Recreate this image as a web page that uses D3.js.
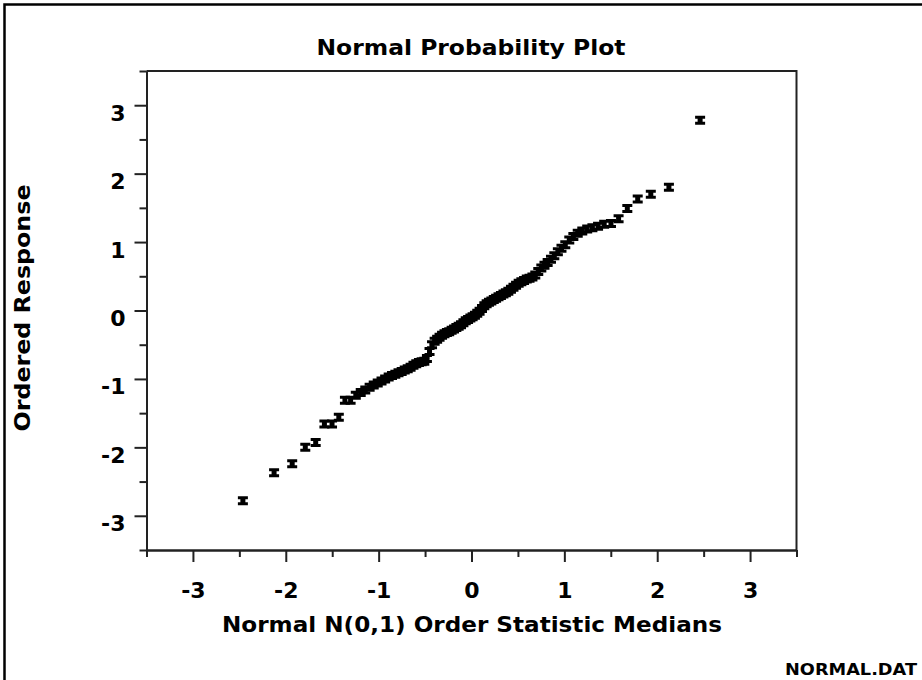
<!DOCTYPE html>
<html>
<head>
<meta charset="utf-8">
<title>Normal Probability Plot</title>
<script src="https://cdn.jsdelivr.net/npm/d3@7"></script>
<style>
  body { margin: 0; background: #fff; }
  svg { display: block; }
  text { font-family: "DejaVu Sans", "Liberation Sans", Arial, sans-serif; font-weight: bold; fill: #000; }
</style>
</head>
<body>
<svg id="chart" width="922" height="680"></svg>
<script>
// normal probability plot of NORMAL.DAT (100 points)

// x: normal N(0,1) order statistic medians, rank 1..100
const xMedians = [
  -2.462, -2.126, -1.931, -1.790, -1.678, -1.584, -1.502, -1.429, -1.363, -1.302,
  -1.246, -1.193, -1.144, -1.097, -1.053, -1.010, -0.969, -0.930, -0.892, -0.856,
  -0.820, -0.786, -0.752, -0.719, -0.687, -0.656, -0.625, -0.595, -0.566, -0.537,
  -0.508, -0.480, -0.452, -0.425, -0.397, -0.370, -0.344, -0.317, -0.291, -0.265,
  -0.240, -0.214, -0.188, -0.163, -0.138, -0.113, -0.087, -0.062, -0.037, -0.012,
   0.012,  0.037,  0.062,  0.087,  0.113,  0.138,  0.163,  0.188,  0.214,  0.240,
   0.265,  0.291,  0.317,  0.344,  0.370,  0.397,  0.425,  0.452,  0.480,  0.508,
   0.537,  0.566,  0.595,  0.625,  0.656,  0.687,  0.719,  0.752,  0.786,  0.820,
   0.856,  0.892,  0.930,  0.969,  1.010,  1.053,  1.097,  1.144,  1.193,  1.246,
   1.302,  1.363,  1.429,  1.502,  1.584,  1.678,  1.790,  1.931,  2.126,  2.462
];

// y: ordered response
const yOrdered = [
  -2.78, -2.37, -2.24, -2.00, -1.93, -1.66, -1.66, -1.56, -1.31, -1.31,
  -1.24, -1.20, -1.16, -1.12, -1.09, -1.06, -1.03, -1.00, -0.97, -0.95,
  -0.93, -0.91, -0.89, -0.87, -0.85, -0.83, -0.80, -0.78, -0.76, -0.75,
  -0.74, -0.70, -0.60, -0.50, -0.45, -0.42, -0.39, -0.36, -0.34, -0.32,
  -0.31, -0.29, -0.27, -0.25, -0.23, -0.21, -0.18, -0.15, -0.13, -0.11,
  -0.09, -0.07, -0.04, -0.01,  0.03,  0.07,  0.10,  0.12,  0.14,  0.16,
   0.18,  0.20,  0.22,  0.24,  0.26,  0.28,  0.31,  0.34,  0.37,  0.40,
   0.42,  0.44,  0.46,  0.47,  0.49,  0.52,  0.57,  0.62,  0.66,  0.70,
   0.75,  0.80,  0.86,  0.91,  0.96,  1.03,  1.08,  1.13,  1.16,  1.19,
   1.21,  1.23,  1.26,  1.27,  1.34,  1.49,  1.63,  1.70,  1.80,  2.78
];

const majorTicks = [-3, -2, -1, 0, 1, 2, 3];
const minorTicks = [-3.5, -2.5, -1.5, -0.5, 0.5, 1.5, 2.5, 3.5];
const axisDomain = [-3.5, 3.5];

const titleText = 'Normal Probability Plot';
const xLabel = 'Normal N(0,1) Order Statistic Medians';
const yLabel = 'Ordered Response';
const fileLabel = 'NORMAL.DAT';

const svg = d3.select('#chart');
const box = { left: 146.5, right: 796.5, top: 71, bottom: 550 };

const x = d3.scaleLinear().domain(axisDomain).range([box.left, box.right]);
const y = d3.scaleLinear().domain(axisDomain).range([box.bottom, box.top]);

// outer page border (left + top)
svg.append('path')
  .attr('d', 'M4.5,680 V4.5 H922')
  .attr('fill', 'none')
  .attr('stroke', '#000')
  .attr('stroke-width', 2.5);

// top and right frame lines
svg.append('path')
  .attr('d', `M${box.left},${box.top} H${box.right} V${box.bottom}`)
  .attr('fill', 'none')
  .attr('stroke', '#222')
  .attr('stroke-width', 2);

function styleAxis(g){
  g.select('.domain').attr('stroke', '#222').attr('stroke-width', 2);
  g.selectAll('.tick line').attr('stroke', '#222').attr('stroke-width', 2);
  g.selectAll('.tick text')
    .attr('font-family', '"DejaVu Sans", "Liberation Sans", Arial, sans-serif')
    .attr('font-weight', 'bold')
    .attr('font-size', 22)
    .attr('fill', '#000');
}

const signed = d => d < 0 ? '-' + Math.abs(d) : String(d);

// x axis: minor then major
svg.append('g')
  .attr('transform', `translate(0,${box.bottom})`)
  .call(d3.axisBottom(x).tickValues(minorTicks).tickSize(7).tickSizeOuter(0).tickFormat(''))
  .call(styleAxis);
svg.append('g')
  .attr('transform', `translate(0,${box.bottom})`)
  .call(d3.axisBottom(x).tickValues(majorTicks).tickSize(12).tickSizeOuter(0).tickPadding(20).tickFormat(signed))
  .call(styleAxis);

// y axis
svg.append('g')
  .attr('transform', `translate(${box.left},0)`)
  .call(d3.axisLeft(y).tickValues(minorTicks).tickSize(7).tickSizeOuter(0).tickFormat(''))
  .call(styleAxis);
svg.append('g')
  .attr('transform', `translate(${box.left},0)`)
  .call(d3.axisLeft(y).tickValues(majorTicks).tickSize(12).tickSizeOuter(0).tickPadding(9).tickFormat(signed))
  .call(styleAxis)
  .call(g => g.selectAll('.tick text').attr('dy', '0.68em'));

// titles
svg.append('text')
  .attr('x', 471).attr('y', 55)
  .attr('text-anchor', 'middle')
  .attr('font-size', 22)
  .attr('textLength', 309).attr('lengthAdjust', 'spacingAndGlyphs')
  .text(titleText);

svg.append('text')
  .attr('x', 472).attr('y', 632)
  .attr('text-anchor', 'middle')
  .attr('font-size', 22)
  .attr('textLength', 500).attr('lengthAdjust', 'spacingAndGlyphs')
  .text(xLabel);

svg.append('text')
  .attr('transform', 'translate(30,308) rotate(-90)')
  .attr('text-anchor', 'middle')
  .attr('font-size', 21)
  .attr('textLength', 247).attr('lengthAdjust', 'spacingAndGlyphs')
  .text(yLabel);

svg.append('text')
  .attr('x', 785).attr('y', 675)
  .attr('font-size', 16)
  .attr('textLength', 132).attr('lengthAdjust', 'spacingAndGlyphs')
  .text(fileLabel);

// heavy "I" shaped plot symbol
const marker = 'M-5,-4.5 H5 V-1.5 H2.5 V1.5 H5 V4.5 H-5 V1.5 H-2.5 V-1.5 H-5 Z';
const points = xMedians.map((d, i) => ({ x: d, y: yOrdered[i] }));

svg.append('g')
  .selectAll('path')
  .data(points)
  .join('path')
  .attr('d', marker)
  .attr('transform', d => `translate(${x(d.x)},${y(d.y)})`)
  .attr('fill', '#000');
</script>
</body>
</html>
